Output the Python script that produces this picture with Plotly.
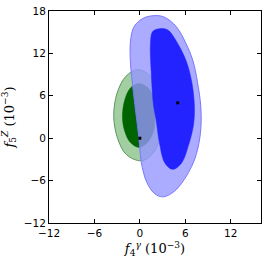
import plotly.graph_objects as go

# contour outlines (units of 1e-3)
green95_x = [-0.25, 1.5, 2.72, 3.15, 2.75, 1.6, 0.2, -1.75, -2.95, -3.45, -3.0, -1.85]
green95_y = [9.7, 8.7, 6.4, 3.8, 0.2, -2.3, -3.2, -2.35, 0.0, 3.2, 6.4, 8.75]
green68_x = [-0.1, 1.1, 1.85, 2.0, 1.8, 1.0, -0.1, -1.25, -2.0, -2.3, -2.0, -1.25]
green68_y = [7.75, 7.1, 5.5, 3.2, 1.0, -0.6, -1.3, -0.6, 1.0, 3.0, 5.4, 7.1]
blue95_x = [2.1, 3.3, 4.8, 6.1, 7.0, 7.6, 8.05, 8.0, 7.2, 5.5, 4.2, 3.0, 1.9, 0.9,
            0.4, 0.15, -0.15, -0.83, -1.26, -1.2, -0.7, 0.5]
blue95_y = [17.35, 17.1, 15.8, 13.4, 11.0, 8.0, 4.4, 0.7, -3.1, -6.4, -7.8, -8.3, -7.8,
            -6.2, -4.5, -3.1, 0.2, 6.3, 11.0, 14.1, 15.9, 17.0]
blue68_x = [2.6, 3.7, 5.0, 6.1, 6.85, 7.2, 7.1, 6.5, 5.45, 4.3, 3.3, 2.6, 2.15, 1.8, 1.5, 1.4, 1.7]
blue68_y = [15.5, 15.3, 13.4, 11.0, 8.0, 4.7, 2.0, -0.75, -3.6, -4.4, -3.5, -0.75, 2.55, 4.7, 9.4, 13.4, 15.1]
best_x = [0, 5]
best_y = [0, 5]

x_ticks = [-12, -6, 0, 6, 12]
y_ticks = [-12, -6, 0, 6, 12, 18]


def closed(a):
    return list(a) + [a[0]]


fig = go.Figure()
fig.add_trace(go.Scatter(x=closed(green95_x), y=closed(green95_y), fill="toself",
                         fillcolor="rgb(162,207,162)", mode="lines",
                         line=dict(color="rgb(95,150,95)", width=1, shape="spline", smoothing=1.0)))
fig.add_trace(go.Scatter(x=closed(green68_x), y=closed(green68_y), fill="toself",
                         fillcolor="rgb(0,100,0)", mode="lines",
                         line=dict(color="rgb(0,100,0)", width=0.5, shape="spline", smoothing=1.0)))
fig.add_trace(go.Scatter(x=closed(blue95_x), y=closed(blue95_y), fill="toself",
                         fillcolor="rgba(150,150,255,0.8)", mode="lines",
                         line=dict(color="rgb(120,120,255)", width=1, shape="spline", smoothing=1.0)))
fig.add_trace(go.Scatter(x=closed(blue68_x), y=closed(blue68_y), fill="toself",
                         fillcolor="rgb(35,35,255)", mode="lines",
                         line=dict(color="rgb(35,35,255)", width=0.5, shape="spline", smoothing=1.0)))
fig.add_trace(go.Scatter(x=best_x, y=best_y, mode="markers",
                         marker=dict(symbol="square", size=3, color="black")))

axis_common = dict(showgrid=False, zeroline=False, showline=True, linecolor="black",
                   linewidth=1, mirror="ticks", ticks="inside", ticklen=4, tickcolor="black",
                   automargin=False,
                   tickfont=dict(family="DejaVu Sans", size=10.5, color="black"))
fig.update_xaxes(range=[-12, 16], tickvals=x_ticks,
                 ticktext=[str(v).replace("-", "\u2212") for v in x_ticks],
                 title=dict(text="<i>f</i><sub>4</sub><sup><i>\u03b3</i></sup> (10<sup>\u22123</sup>)",
                            font=dict(family="DejaVu Serif", size=13, color="black"), standoff=6),
                 **axis_common)
fig.update_yaxes(range=[-12, 18], tickvals=y_ticks,
                 ticktext=[str(v).replace("-", "\u2212") for v in y_ticks],
                 title=dict(text="<i>f</i><sub>5</sub><sup><i>Z</i></sup> (10<sup>\u22123</sup>)",
                            font=dict(family="DejaVu Serif", size=13, color="black"), standoff=6),
                 **axis_common)
fig.update_layout(width=267, height=262, margin=dict(l=49, r=6, t=11, b=39),
                  plot_bgcolor="white", paper_bgcolor="white", showlegend=False)
fig.write_html("out.html", config={"displayModeBar": False},
               post_script="document.body.style.margin='0';")
